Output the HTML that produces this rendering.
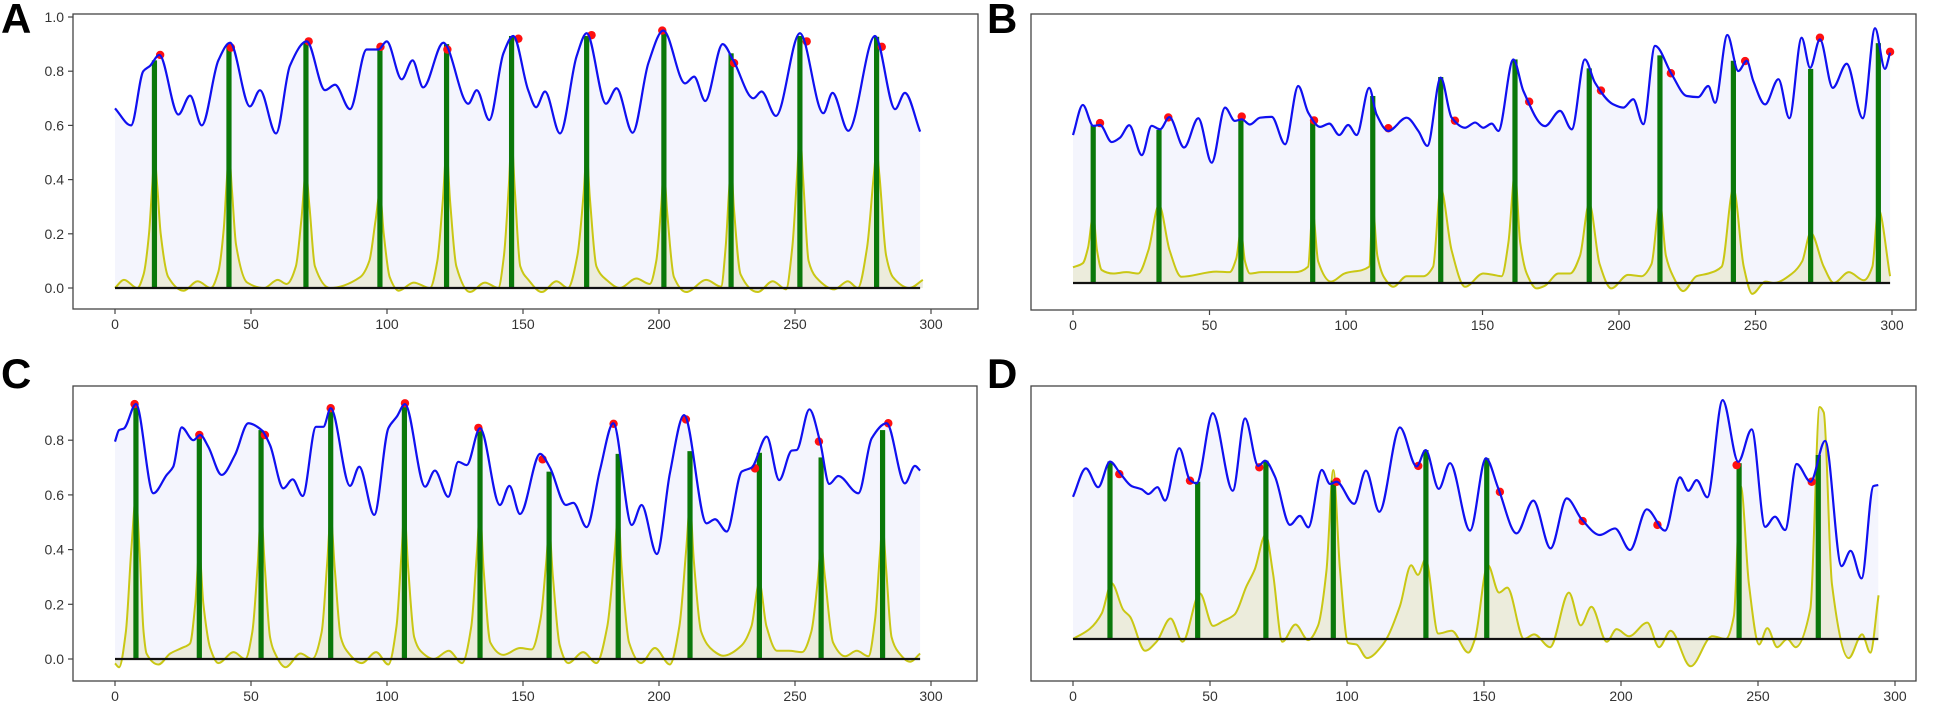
<!DOCTYPE html>
<html><head><meta charset="utf-8">
<style>
html,body{margin:0;padding:0;background:#fff;}
svg{display:block;}
.tick{font-family:"Liberation Sans",sans-serif;font-size:14px;fill:#333;}
.plabel{font-family:"Liberation Sans",sans-serif;font-size:42px;font-weight:bold;fill:#000;}
</style></head>
<body>
<svg id="fig" width="1943" height="722" viewBox="0 0 1943 722" xmlns="http://www.w3.org/2000/svg"></svg>
<script>
// ---------- data: panel A ----------
const aBlue=[[0,.663],[5.9,.60],[10.4,.80],[12.9,.82],[16.3,.86],[23.3,.64],[27.6,.71],[31.9,.60],[38,.84],[42.3,.905],[49.6,.67],[53.3,.73],[59.2,.57],[64.3,.82],[70.5,.91],[77.2,.73],[80.9,.75],[86.4,.66],[92.5,.88],[96.8,.88],[99.9,.91],[105.4,.77],[109.4,.84],[113.3,.74],[120.7,.905],[129.9,.68],[133,.73],[137.6,.62],[142.8,.866],[146.4,.93],[151.9,.73],[154.8,.667],[158.1,.725],[163.6,.57],[169.7,.855],[173.4,.94],[180.5,.68],[184.4,.737],[190.3,.573],[196.1,.83],[201.6,.95],[209.6,.755],[212.9,.78],[217,.69],[223.4,.90],[227.3,.84],[234.7,.70],[237.7,.725],[243,.635],[251.8,.94],[260.4,.645],[263.8,.72],[269.6,.58],[279.4,.93],[286.8,.66],[290.4,.72],[296,.577]];
const aYellow=[[0,0],[3.3,.03],[8.2,0],[10.5,.05],[12.5,.2],[13.7,.38],[14.5,.485],[15.5,.38],[16.8,.2],[19.6,.04],[25.2,-.01],[30.4,.025],[35.2,0],[38,.06],[40,.22],[41,.38],[41.9,.495],[43,.36],[44.5,.16],[48.6,.02],[54.8,0],[59.8,.03],[63.1,.015],[66.5,.08],[68.5,.25],[70.2,.425],[71.5,.3],[73.5,.08],[79,0],[90.1,.04],[93.5,.1],[95.8,.25],[97.4,.35],[98.8,.2],[101,.04],[104.3,-.01],[109.8,.02],[115.8,0],[118.5,.1],[120.5,.32],[121.9,.503],[123.2,.32],[125.5,.08],[130.5,-.015],[136,.02],[140.9,0],[143,.12],[144.8,.38],[145.8,.546],[147,.36],[149,.08],[152,.03],[156.9,-.015],[162.3,.025],[166.5,0],[170,.12],[172.3,.35],[173.4,.494],[174.6,.33],[177,.08],[180.7,.03],[185.6,0],[191.7,.035],[196.6,.015],[199,.1],[200.8,.3],[201.8,.435],[203,.28],[205.5,.04],[210,-.015],[217.4,.03],[222.8,.005],[224.5,.15],[225.7,.35],[226.5,.457],[227.5,.3],[230,.05],[236.3,-.015],[241.8,.025],[246.7,-.005],[249,.15],[250.8,.42],[251.8,.573],[253,.4],[255,.1],[257.7,.04],[264.5,-.005],[269.4,.025],[273.1,0],[276.5,.15],[279,.42],[280,.507],[281,.42],[283.5,.12],[286,.04],[292.1,0],[297,.03]];
const aBarX=[14.5,41.9,70.2,97.4,121.9,145.8,173.4,201.8,226.5,251.8,280];
const aBarTop=[.84,.90,.91,.88,.90,.93,.93,.95,.866,.93,.927];
const aDots=[[16.6,.86],[42.6,.887],[71.2,.91],[97.6,.89],[122.2,.88],[148.3,.92],[175.2,.933],[201.2,.95],[227.6,.83],[254.3,.91],[281.9,.89]];
// ---------- data: panel B ----------
const bBlue=[[0,.546],[3.6,.657],[7.4,.58],[9.9,.583],[14.2,.52],[17.2,.536],[20.6,.582],[25.2,.472],[28.8,.58],[31.9,.567],[35.3,.612],[40.7,.50],[45.9,.608],[50.8,.444],[55.7,.647],[59.3,.598],[61.8,.604],[64.8,.585],[68.5,.61],[72.8,.613],[77.7,.512],[82.5,.727],[86.2,.628],[90.5,.576],[93.9,.588],[97.5,.546],[100.8,.583],[103.9,.546],[108.5,.72],[111.2,.622],[115.5,.561],[122.2,.61],[126.5,.561],[129.8,.506],[134.7,.758],[138.7,.61],[143.6,.573],[147.3,.592],[150.3,.573],[153.4,.588],[155.8,.561],[161.3,.825],[165,.708],[172.9,.579],[178.4,.635],[182.7,.567],[187.5,.825],[191.2,.739],[197.9,.659],[201.6,.647],[205.2,.678],[208.9,.586],[213.2,.875],[219.3,.77],[224.8,.69],[229,.686],[232.7,.727],[235.2,.665],[239.7,.915],[243.7,.782],[246.8,.82],[249.2,.745],[253.5,.659],[258.4,.752],[262.4,.608],[266.9,.905],[270,.794],[273.6,.899],[278.3,.72],[283.4,.809],[289.3,.608],[293.8,.94],[297.4,.79],[299.3,.85]];
const bYellow=[[0,.058],[3.6,.073],[5.5,.13],[7.4,.25],[8.8,.12],[10.5,.048],[14.7,.035],[19.6,.04],[23.9,.035],[27.6,.12],[31.5,.288],[35.4,.12],[39.7,.023],[52.5,.042],[57.4,.04],[59.8,.09],[61.5,.19],[63,.08],[64.8,.035],[69.1,.04],[81.2,.04],[86.1,.06],[87.8,.263],[89.8,.08],[94.5,.005],[99.4,.035],[108.5,.06],[109.8,.276],[111.5,.1],[114,.02],[117.3,-.014],[122.2,.025],[128.3,.025],[131.9,.06],[134.7,.349],[138.7,.12],[143.6,-.014],[150.3,.035],[154,.03],[157,.025],[159.5,.15],[161.9,.405],[163.8,.15],[166.2,.035],[169.8,-.02],[172.9,-.01],[177.8,.035],[182.1,.035],[185.7,.1],[189.1,.294],[192.9,.07],[197.2,-.02],[203.3,.03],[208.2,.025],[211.9,.07],[215,.294],[217.2,.1],[219.8,.025],[223.5,-.03],[228.4,.025],[232.7,.035],[237.6,.06],[241.9,.349],[245.7,.06],[248.8,-.04],[253.7,.005],[256.7,0],[263.4,.035],[267.1,.08],[270.2,.186],[275,.06],[278.7,0],[284.2,.04],[289.7,.01],[292.8,.06],[295,.272],[299.3,.025]];
const bBarX=[7.4,31.5,61.5,87.8,109.8,134.7,161.9,189.1,215,241.9,270.2,295];
const bBarTop=[.583,.565,.609,.60,.69,.76,.825,.792,.84,.82,.79,.885];
const bDots=[[9.9,.59],[34.9,.611],[61.8,.614],[88.3,.60],[115.5,.571],[139.9,.599],[167.1,.669],[193.4,.71],[219,.774],[246.2,.819],[273.6,.905],[299.3,.853]];
// ---------- data: panel C ----------
const cBlue=[[0,.795],[1.5,.837],[3.3,.843],[7.7,.932],[14.1,.606],[19,.673],[21.4,.703],[24.5,.847],[28.8,.80],[31.3,.819],[34.3,.776],[39.2,.673],[44.1,.746],[49,.862],[53.9,.837],[57,.782],[61.9,.624],[65.3,.657],[69,.596],[73.9,.849],[76.6,.849],[79.3,.917],[86.4,.633],[89.8,.703],[95.3,.527],[100.5,.844],[103.6,.886],[106.6,.932],[114,.63],[117.6,.689],[122.5,.593],[126.2,.721],[129.3,.709],[134.2,.844],[141.5,.563],[145,.633],[148.9,.53],[156.3,.75],[159.9,.70],[165.8,.563],[168.5,.571],[173.4,.482],[178.3,.691],[183.2,.862],[190,.49],[193.6,.563],[199.2,.384],[204,.679],[209.2,.892],[217.5,.496],[220.6,.511],[224.9,.466],[230.4,.685],[234.1,.70],[239.6,.813],[244.2,.654],[248.8,.762],[250.6,.764],[255.3,.913],[259.2,.795],[262.6,.64],[265.9,.669],[273.3,.606],[278.2,.807],[283.7,.862],[290.4,.642],[294.1,.706],[296,.689]];
const cYellow=[[0,-.016],[1.5,-.03],[4,.1],[6,.4],[7.7,.59],[9,.4],[10.5,.1],[11.6,.02],[16,-.02],[20.3,.02],[24.5,.04],[27.6,.057],[29.5,.2],[31,.389],[32.5,.2],[35,.04],[38,-.015],[43.6,.025],[47.9,0],[50.5,.1],[52.5,.35],[53.7,.533],[55,.35],[57,.08],[58.4,.03],[62.7,-.03],[68.2,.02],[72.5,0],[76,.1],[78,.35],[79.3,.518],[80.8,.33],[83,.08],[85.2,.03],[90.7,-.015],[96,.025],[100.5,-.02],[103.5,.12],[105.3,.38],[106.4,.533],[107.8,.33],[110,.08],[112.3,.03],[117.2,0],[122.7,.03],[127.6,-.015],[131,.12],[133,.38],[134.2,.535],[135.5,.33],[138,.06],[142.8,.015],[148.9,.04],[153.2,.035],[156.5,.15],[158.5,.35],[159.6,.472],[161,.3],[163.5,.05],[166.6,-.015],[172.1,.025],[177,-.015],[181,.12],[183.8,.4],[185,.535],[186.3,.33],[189,.06],[193.4,-.015],[198.5,.04],[204,-.02],[207.5,.12],[210,.4],[211.4,.559],[212.8,.36],[215.5,.1],[220,.03],[223.6,.012],[230.4,.05],[234,.12],[236.9,.279],[239.5,.12],[243.4,.03],[247.7,.03],[252.6,.025],[256,.1],[258.5,.3],[259.6,.42],[261,.3],[264,.06],[268.4,.01],[272.7,.03],[277,.01],[279.5,.15],[281.2,.38],[282.2,.486],[283.5,.33],[285.5,.08],[288,.025],[292.3,-.01],[296,.02]];
const cBarX=[7.7,31,53.7,79.3,106.4,134.2,159.6,185,211.4,236.9,259.6,282.2];
const cBarTop=[.93,.82,.837,.917,.93,.844,.685,.75,.76,.754,.737,.837];
const cDots=[[7.2,.932],[31,.819],[55.1,.819],[79.3,.917],[106.6,.935],[133.6,.845],[157.2,.73],[183.3,.86],[209.9,.876],[235.3,.697],[258.8,.795],[284.3,.862]];
// ---------- data: panel D ----------
const dBlue=[[0,.521],[4.7,.625],[9.2,.556],[13.5,.65],[17.2,.607],[21.4,.56],[25.1,.548],[27.5,.531],[30.8,.556],[33.6,.507],[38.8,.699],[42.7,.582],[45.1,.57],[51,.827],[58.3,.543],[62.8,.808],[67.6,.634],[70.1,.653],[73.7,.595],[79.2,.418],[82.8,.451],[85.9,.409],[90.8,.619],[93.8,.568],[96.2,.576],[102.6,.495],[106.9,.617],[111.8,.466],[119.3,.775],[125.4,.632],[128.7,.692],[133.5,.55],[137.6,.644],[144.9,.397],[150.7,.662],[155.2,.552],[161.9,.387],[168,.507],[174.3,.332],[180.2,.515],[185.7,.438],[192.3,.381],[197.8,.405],[203.3,.326],[209.4,.475],[216.1,.397],[221.5,.592],[224.6,.543],[227.6,.582],[231.5,.519],[237.1,.875],[242.8,.649],[247.7,.768],[252.6,.411],[256.2,.448],[259.9,.399],[264.1,.641],[269.2,.576],[274.5,.726],[280.5,.267],[283.8,.323],[287.8,.222],[292.1,.56],[293.9,.564]];
const dYellow=[[0,0],[6.1,.037],[10.5,.094],[14.1,.204],[18.4,.106],[20.8,.082],[26.3,-.043],[30.5,-.01],[35.6,.075],[40,-.01],[46.3,.167],[51.1,.048],[54.7,.065],[59,.09],[63.3,.193],[66.3,.254],[70.3,.383],[73,.24],[76.4,-.01],[81.2,.053],[85.8,-.004],[89.4,.048],[92.5,.25],[95,.619],[97.4,.26],[100.4,-.015],[103.4,-.02],[107.3,-.07],[113.1,-.02],[119.3,.12],[123.4,.27],[125.9,.235],[128.7,.293],[133.3,.02],[138.2,.03],[144.3,-.05],[146.7,0],[151.4,.271],[155.5,.17],[158.5,.188],[164.6,0],[168.3,.017],[174.1,-.03],[181,.17],[185.3,.05],[189.2,.118],[194.8,-.01],[198.4,.036],[202.9,.01],[209.6,.06],[213.9,-.03],[218.1,.03],[225.4,-.1],[233.3,.01],[238.2,0],[241.2,.084],[243.7,.56],[246.7,.2],[250.4,-.02],[253.4,.04],[257,-.03],[260.7,0],[263.7,-.03],[269.1,.11],[272.5,.85],[274,.83],[277,.2],[283.1,-.07],[288,.017],[291,-.05],[294,.16]];
const dBarX=[13.5,45.5,70.4,95,128.8,151,243.1,272];
const dBarTop=[.65,.576,.653,.58,.692,.662,.644,.674];
const dDots=[[16.9,.604],[42.7,.58],[68,.629],[96.2,.576],[126,.634],[155.8,.539],[186,.432],[213.3,.418],[242.2,.637],[269.6,.576]];
// ---------- tick labels ----------
const xTicks=[0,50,100,150,200,250,300];
const yTicksA=[0,0.2,0.4,0.6,0.8,1.0];
const yTicksC=[0,0.2,0.4,0.6,0.8];

const NS="http://www.w3.org/2000/svg";
const svg=document.getElementById('fig');
function mk(tag,attrs,parent){const e=document.createElementNS(NS,tag);for(const k in attrs)e.setAttribute(k,attrs[k]);(parent||svg).appendChild(e);return e;}

// monotone cubic (Fritsch-Carlson) path through pixel points
function monoPath(pts){
  const n=pts.length;if(n<2)return '';
  const dx=[],dy=[],m=[];
  for(let i=0;i<n-1;i++){dx.push(pts[i+1][0]-pts[i][0]);dy.push(pts[i+1][1]-pts[i][1]);m.push(dy[i]/dx[i]);}
  const t=[m[0]];
  for(let i=1;i<n-1;i++){ if(m[i-1]*m[i]<=0)t.push(0); else {const w1=2*dx[i]+dx[i-1],w2=dx[i]+2*dx[i-1];t.push((w1+w2)/(w1/m[i-1]+w2/m[i]));}}
  t.push(m[n-2]);
  let d='M'+pts[0][0].toFixed(2)+','+pts[0][1].toFixed(2);
  for(let i=0;i<n-1;i++){const h=dx[i]/3;
    d+='C'+(pts[i][0]+h).toFixed(2)+','+(pts[i][1]+t[i]*h).toFixed(2)+' '+(pts[i+1][0]-h).toFixed(2)+','+(pts[i+1][1]-t[i+1]*h).toFixed(2)+' '+pts[i+1][0].toFixed(2)+','+pts[i+1][1].toFixed(2);}
  return d;
}

function panel(cfg){
  const g=mk('g',{});
  
  
  const xs=v=>cfg.x0+cfg.kx*v, ys=v=>cfg.y0-cfg.ky*v;
  // frame
  const fr=mk('rect',{x:cfg.L,y:cfg.T,width:cfg.R-cfg.L,height:cfg.B-cfg.T,fill:'#fff',stroke:'#444','stroke-width':1.3},g);
  
  
  const bp=cfg.blue.map(p=>[xs(p[0]),ys(p[1])]);
  const yp=cfg.yellow.map(p=>[xs(p[0]),ys(p[1])]);
  const base=ys(0);
  // blue fill
  const bf=mk('path',{d:monoPath(bp)+'L'+bp[bp.length-1][0]+','+base+'L'+bp[0][0]+','+base+'Z',fill:'#f4f5fd',stroke:'none'},g);
  
  
  const yf=mk('path',{d:monoPath(yp)+'L'+yp[yp.length-1][0]+','+base+'L'+yp[0][0]+','+base+'Z',fill:'#ececdc',stroke:'none'},g);
  
  
  const yl=mk('path',{d:monoPath(yp),fill:'none',stroke:'#c9c714','stroke-width':2},g);
  
  
  cfg.barX.forEach((bx,i)=>{
    const top=ys(cfg.barTop[i]);
    const r=mk('rect',{x:xs(bx)-2.6,y:top,width:5.2,height:base-top,fill:'#0a780a'},g);
    
    
  });
  const bl=mk('line',{x1:xs(0),x2:bp[bp.length-1][0],y1:base,y2:base,stroke:'#111','stroke-width':2.2},g);
  
  
  cfg.dots.forEach((p,i)=>{
    const c=mk('circle',{cx:xs(p[0]),cy:ys(p[1]),r:4.2,fill:'#ff1010'},g);
    
    
  });
  const blu=mk('path',{d:monoPath(bp),fill:'none',stroke:'#1010f0','stroke-width':2.2},g);
  
  
  // x ticks
  xTicks.forEach(t=>{
    const x=xs(t);
    const tk=mk('line',{x1:x,x2:x,y1:cfg.B,y2:cfg.B+5,stroke:'#444','stroke-width':1.2},g);
    
    
    const tx=mk('text',{x:x,y:cfg.B+20,'text-anchor':'middle',class:'tick'},g);
    tx.textContent=String(t);
    
    
  });
  (cfg.yTicks||[]).forEach(t=>{
    const y=ys(t);
    const tk=mk('line',{x1:cfg.L-5,x2:cfg.L,y1:y,y2:y,stroke:'#444','stroke-width':1.2},g);
    
    
    const tx=mk('text',{x:cfg.L-9,y:y+5,'text-anchor':'end',class:'tick'},g);
    tx.textContent=t.toFixed(1);
    
    
  });
  const lb=mk('text',{x:cfg.lx,y:cfg.ly,class:'plabel'},g);
  lb.textContent=cfg.id;
  
  
}

panel({id:'A',L:73,T:14,R:978,B:309,x0:115,kx:2.72,y0:288,ky:271,blue:aBlue,yellow:aYellow,barX:aBarX,barTop:aBarTop,dots:aDots,yTicks:yTicksA,lx:1,ly:33});
panel({id:'B',L:1031,T:14,R:1916,B:310,x0:1073,kx:2.73,y0:283,ky:271,blue:bBlue,yellow:bYellow,barX:bBarX,barTop:bBarTop,dots:bDots,lx:987,ly:33});
panel({id:'C',L:73,T:386,R:977,B:681,x0:115,kx:2.72,y0:659,ky:273.5,blue:cBlue,yellow:cYellow,barX:cBarX,barTop:cBarTop,dots:cDots,yTicks:yTicksC,lx:1,ly:388});
panel({id:'D',L:1031,T:386,R:1916,B:681,x0:1073,kx:2.74,y0:639,ky:273,blue:dBlue,yellow:dYellow,barX:dBarX,barTop:dBarTop,dots:dDots,lx:987,ly:388});
</script>
</body></html>
